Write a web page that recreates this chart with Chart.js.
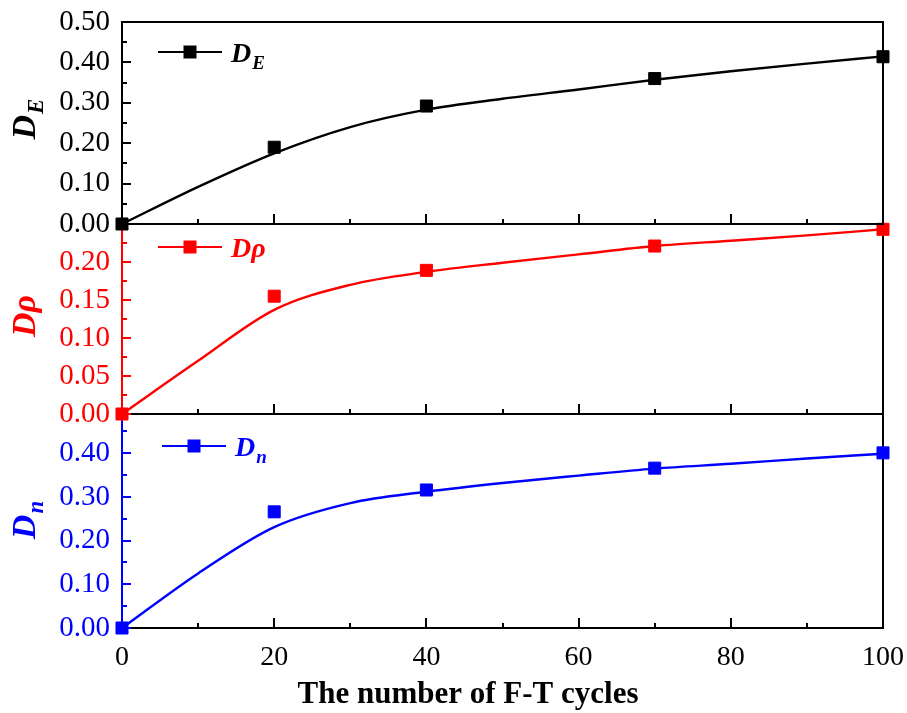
<!DOCTYPE html>
<html>
<head>
<meta charset="utf-8">
<title>Damage variables vs F-T cycles</title>
<script src="https://cdn.jsdelivr.net/npm/chart.js@4.4.0/dist/chart.umd.min.js"></script>
<style>
  body { margin: 0; background: #fff; }
  #wrap { position: relative; width: 907px; height: 713px; background: #fff; }
  .panel { position: absolute; left: 0; width: 907px; }
</style>
</head>
<body>
<div id="wrap">
  <div class="panel" style="top:0;height:240px;z-index:3"><canvas id="chartE"></canvas></div>
  <div class="panel" style="top:200px;height:230px;z-index:2"><canvas id="chartRho"></canvas></div>
  <div class="panel" style="top:390px;height:323px;z-index:1"><canvas id="chartN"></canvas></div>
</div>
<script>
// measured damage values
const cycles = [0, 20, 40, 70, 100];
const dE = [0, 0.190, 0.292, 0.360, 0.414];
const dRho = [0, 0.155, 0.189, 0.221, 0.243];
const dN = [0, 0.266, 0.316, 0.366, 0.401];

// fitted curves
const fitCycles = [0, 10, 20, 30, 40, 50, 60, 70, 80, 90, 100];
const fitE = [0, 0.092, 0.175, 0.240, 0.283, 0.310, 0.333, 0.357, 0.378, 0.397, 0.415];
const fitRho = [0, 0.070, 0.137, 0.170, 0.187, 0.199, 0.210, 0.221, 0.228, 0.235, 0.243];
const fitN = [0, 0.125, 0.231, 0.286, 0.312, 0.332, 0.349, 0.365, 0.376, 0.388, 0.399];

// tick labels
const xTicks = [0, 20, 40, 60, 80, 100];
const eTicks = [0, 0.10, 0.20, 0.30, 0.40, 0.50];
const rhoTicks = [0, 0.05, 0.10, 0.15, 0.20];
const nTicks = [0, 0.10, 0.20, 0.30, 0.40];

const xTitle = 'The number of F-T cycles';
const SERIF = '"Liberation Serif", "Times New Roman", serif';

function pts(xs, ys) {
    return xs.map((x, i) => ({ x: x, y: ys[i] }));
}

// frame, inward ticks, legend and rotated axis title for one panel
const panelDecor = {
    id: 'panelDecor',
    beforeDatasetsDraw(chart, args, opts) {
        const ctx = chart.ctx, a = chart.chartArea;
        const xs = chart.scales.x, ys = chart.scales.y;
        ctx.save();
        ctx.lineWidth = 2;
        ctx.strokeStyle = '#000';
        ctx.beginPath();
        if (opts.topEdge) {
            ctx.moveTo(a.left - 1, a.top);
            ctx.lineTo(a.right + 1, a.top);
        }
        ctx.moveTo(a.right, a.top - 1);
        ctx.lineTo(a.right, a.bottom);
        ctx.lineTo(a.left - 1, a.bottom);
        for (let v = xs.min; v <= xs.max; v += 10) {
            const px = Math.round(xs.getPixelForValue(v));
            ctx.moveTo(px, a.bottom);
            ctx.lineTo(px, a.bottom - (v % 20 === 0 ? 10 : 5));
        }
        ctx.stroke();

        ctx.strokeStyle = opts.color;
        ctx.beginPath();
        ctx.moveTo(a.left, a.top);
        ctx.lineTo(a.left, a.bottom);
        const step = opts.minorStep;
        for (let i = 0; i * step <= ys.max + 1e-9; i++) {
            const py = Math.round(ys.getPixelForValue(i * step));
            ctx.moveTo(a.left, py);
            ctx.lineTo(a.left + (i % 2 === 0 ? 9 : 5), py);
        }
        ctx.stroke();
        ctx.restore();
    },
    afterDraw(chart, args, opts) {
        const ctx = chart.ctx, a = chart.chartArea;
        ctx.save();
        ctx.fillStyle = opts.color;
        ctx.strokeStyle = opts.color;

        // legend entry
        const lx = opts.legendX, ly = a.top + opts.legendDy;
        ctx.lineWidth = 2.2;
        ctx.beginPath();
        ctx.moveTo(lx, ly);
        ctx.lineTo(lx + 64, ly);
        ctx.stroke();
        ctx.fillRect(lx + 32 - 6.5, ly - 6.5, 13, 13);
        ctx.textBaseline = 'alphabetic';
        ctx.textAlign = 'left';
        ctx.font = 'bold italic 28px ' + SERIF;
        ctx.fillText(opts.label, lx + 73, ly + 10);
        if (opts.sub) {
            const w = ctx.measureText(opts.label).width;
            ctx.font = 'bold italic 19px ' + SERIF;
            ctx.fillText(opts.sub, lx + 73 + w + 1, ly + 17);
        }

        // bottom axis title, drawn only on the panel that shows the x axis
        if (opts.xTitle) {
            ctx.fillStyle = '#000';
            ctx.textAlign = 'center';
            ctx.textBaseline = 'middle';
            ctx.font = 'bold 31px ' + SERIF;
            ctx.fillText(opts.xTitle, 468, a.bottom + 67);
            ctx.fillStyle = opts.color;
            ctx.textAlign = 'left';
            ctx.textBaseline = 'alphabetic';
        }

        // rotated axis title
        ctx.translate(35, (a.top + a.bottom) / 2 + (opts.titleDy || 0));
        ctx.rotate(-Math.PI / 2);
        ctx.font = 'bold italic 34px ' + SERIF;
        const w1 = ctx.measureText(opts.label).width;
        let w2 = 0;
        if (opts.sub) {
            ctx.font = 'bold italic 23px ' + SERIF;
            w2 = ctx.measureText(opts.sub).width + 1;
        }
        const x0 = -(w1 + w2) / 2;
        ctx.font = 'bold italic 34px ' + SERIF;
        ctx.fillText(opts.label, x0, 0);
        if (opts.sub) {
            ctx.font = 'bold italic 23px ' + SERIF;
            ctx.fillText(opts.sub, x0 + w1 + 1, 8);
        }
        ctx.restore();
    }
};

function makePanel(id, cfg) {
    const ctx = document.getElementById(id).getContext('2d');
    return new Chart(ctx, {
        type: 'scatter',
        data: {
            datasets: [{
                type: 'line',
                data: pts(fitCycles, cfg.fit),
                borderColor: cfg.color,
                borderWidth: 2.4,
                pointRadius: 0,
                cubicInterpolationMode: 'monotone',
                fill: false,
                clip: false
            }, {
                data: pts(cycles, cfg.values),
                backgroundColor: cfg.color,
                borderColor: cfg.color,
                borderWidth: 1,
                pointStyle: 'rect',
                pointRadius: 8.5,
                showLine: false,
                clip: false
            }]
        },
        options: {
            responsive: true,
            maintainAspectRatio: false,
            animation: false,
            layout: { padding: cfg.padding, autoPadding: false },
            plugins: {
                legend: { display: false },
                tooltip: { enabled: false },
                panelDecor: {
                    color: cfg.color,
                    minorStep: cfg.minorStep,
                    topEdge: cfg.topEdge,
                    label: cfg.label,
                    sub: cfg.sub,
                    legendX: cfg.legendX,
                    legendDy: cfg.legendDy,
                    titleDy: cfg.titleDy,
                    xTitle: cfg.showX ? xTitle : ''
                }
            },
            scales: {
                x: {
                    type: 'linear',
                    min: 0,
                    max: 100,
                    display: cfg.showX,
                    grid: { display: false, drawTicks: false },
                    border: { display: false },
                    afterBuildTicks: (s) => { s.ticks = xTicks.map(v => ({ value: v })); },
                    afterFit: (s) => {
                        if (cfg.showX) s.height = 85;
                        // end labels may overhang the plot edge
                        s.paddingLeft = 0;
                        s.paddingRight = 0;
                    },
                    ticks: {
                        color: '#000',
                        padding: 13,
                        maxRotation: 0,
                        font: { family: SERIF, size: 28 }
                    }
                },
                y: {
                    min: 0,
                    max: cfg.max,
                    grid: { display: false, drawTicks: false },
                    border: { display: false },
                    afterBuildTicks: (s) => { s.ticks = cfg.ticks.map(v => ({ value: v })); },
                    afterFit: (s) => {
                        s.width = 122;
                        s.paddingTop = 0;
                        s.paddingBottom = 0;
                    },
                    ticks: {
                        color: cfg.color,
                        padding: 12,
                        font: { family: SERIF, size: 29 },
                        callback: (v) => Number(v).toFixed(2)
                    }
                }
            }
        },
        plugins: [panelDecor]
    });
}

makePanel('chartE', {
    color: '#000000', values: dE, fit: fitE, max: 0.5, ticks: eTicks, minorStep: 0.05,
    topEdge: true, label: 'D', sub: 'E', legendX: 158, legendDy: 30, titleDy: -4,
    showX: false, padding: { top: 22, right: 24, bottom: 16, left: 0 }
});
makePanel('chartRho', {
    color: '#ff0000', values: dRho, fit: fitRho, max: 0.25, ticks: rhoTicks, minorStep: 0.025,
    topEdge: false, label: 'D\u03c1', sub: '', legendX: 158, legendDy: 23, titleDy: -3,
    showX: false, padding: { top: 24, right: 24, bottom: 16, left: 0 }
});
makePanel('chartN', {
    color: '#0000ff', values: dN, fit: fitN, max: 0.49, ticks: nTicks, minorStep: 0.05,
    topEdge: false, label: 'D', sub: 'n', legendX: 162, legendDy: 32, titleDy: -1,
    showX: true, padding: { top: 24, right: 24, bottom: 0, left: 0 }
});
</script>
</body>
</html>
